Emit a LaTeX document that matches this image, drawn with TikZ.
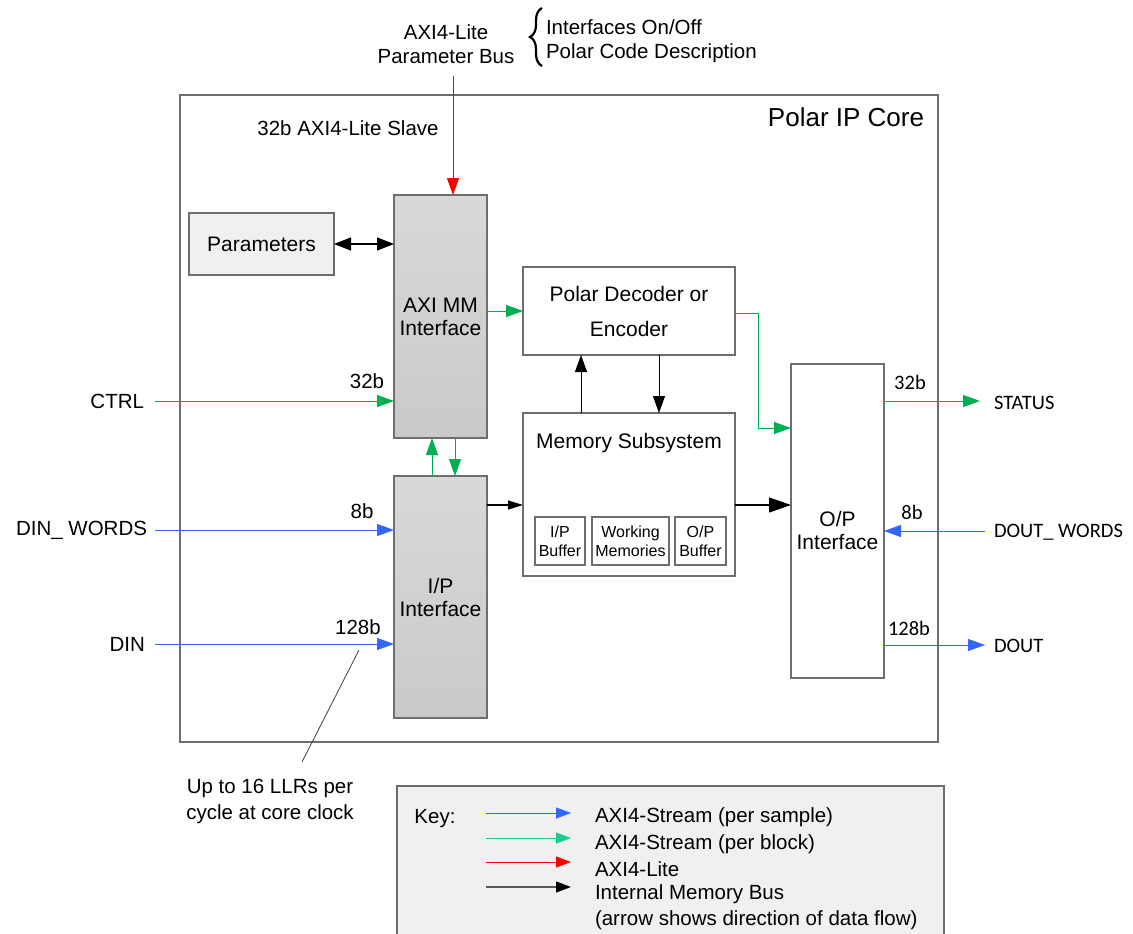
\documentclass[tikz,border=0pt]{standalone}
\usepackage{fontspec}
\setmainfont{Liberation Sans}
\newfontfamily\calfont{Carlito}
\usetikzlibrary{arrows.meta,calc,decorations.pathreplacing}
\definecolor{bdr}{HTML}{6E6E6E}
\definecolor{grn}{HTML}{00B050}
\definecolor{blu}{HTML}{3366FF}
\definecolor{teal}{HTML}{1FC98F}
\definecolor{lgray}{HTML}{F0F0F0}
\tikzset{
  every node/.style={font=\fontsize{21}{25}\selectfont, inner sep=0pt, outer sep=0pt},
  box/.style={draw=bdr, line width=1.2pt, fill=white, align=center},
  gbox/.style={draw=bdr, line width=1.2pt, top color=gray!30, bottom color=gray!42, align=center},
  sbox/.style={draw=bdr, line width=1.1pt, fill=white, align=center, font=\fontsize{16}{19}\selectfont},
  tip/.style={-{Triangle[length=17pt,width=12pt]}},
  gline/.style={tip, draw=grn, line width=1pt},
  bline/.style={tip, draw=blu, line width=1pt},
  kline/.style={tip, draw=black, line width=1pt},
  lbl/.style={font=\fontsize{20.5}{24}\selectfont},
  rlbl/.style={font=\calfont\fontsize{20.5}{24}\selectfont},
  ktip/.style={-{Triangle[length=15pt,width=11pt]}, line width=1pt},
}
\begin{document}
\begin{tikzpicture}[x=1pt,y=-1pt]
\useasboundingbox (0,0) rectangle (1133,934);
\fill[white] (0,0) rectangle (1133,934);
% outer core
\node[draw=bdr, line width=1.3pt, minimum width=758pt, minimum height=647pt] (core) at (559,418.5) {};
\node[font=\fontsize{26}{30}\selectfont] (coret) at (846,117) {Polar IP Core};
\node[lbl] (slave) at (348,128) {32b AXI4-Lite Slave};
% parameter bus
\node[align=center, lbl] (pbus) at (446,44) {AXI4-Lite\\Parameter Bus};
\node[anchor=west, align=left, lbl] (desc) at (546,41) {Interfaces On/Off\\Polar Code Description};
\coordinate (brb) at (542,66);
\coordinate (brt) at (542,8);
\draw[line width=2.2pt, decorate, decoration={brace, amplitude=12pt}] (brb) -- (brt);
% blocks
\node[gbox, minimum width=93pt, minimum height=243pt] (axi) at (440.5,316.5) {AXI MM\\[-2pt]Interface};
\node[gbox, minimum width=93pt, minimum height=242pt] (ipi) at (440.5,597) {I/P\\[-2pt]Interface};
\node[box, fill=lgray, minimum width=145pt, minimum height=62pt] (params) at (261.5,244) {Parameters};
\node[box, minimum width=212pt, minimum height=88pt] (dec) at (629,311) {Polar Decoder or\\[10pt]Encoder};
\node[box, minimum width=212pt, minimum height=163pt] (mem) at (629,494.5) {};
\node (memt) at (629,443) {Memory Subsystem};
\node[sbox, minimum width=50pt, minimum height=48pt] (ipb) at (560,541) {I/P\\Buffer};
\node[sbox, minimum width=77pt, minimum height=48pt] (wm) at (630.5,541) {Working\\Memories};
\node[sbox, minimum width=51pt, minimum height=48pt] (opb) at (700.5,541) {O/P\\Buffer};
\node[box, minimum width=93pt, minimum height=314pt] (opi) at (837.5,521) {};
\node[align=center] (opit) at (837.5,530) {O/P\\[-2pt]Interface};
% red parameter arrow
\coordinate (pstart) at (453,76);
\draw[tip, draw=red, line width=1pt] (pstart) -- (pstart |- axi.north);
% params <-> axi
\draw[{Triangle[length=17pt,width=13pt]}-{Triangle[length=17pt,width=13pt]}, line width=1.2pt] (params.east) -- (params.east -| axi.west);
% axi -> dec
\draw[gline] (axi.east |- dec.west) -- (dec.west);
% mem <-> dec
\draw[kline] ([xshift=-48pt]mem.north) -- ([xshift=-48pt]mem.north |- dec.south);
\draw[kline] ([xshift=30pt]dec.south) -- ([xshift=30pt]dec.south |- mem.north);
% dec -> opi
\draw[gline] ([yshift=-2pt]dec.east) -- ++(23,0) |- ([yshift=-64pt]opi.north west);
% mem -> opi
\draw[-{Triangle[length=22pt,width=15pt]}, line width=1.2pt] ([yshift=-10.5pt]mem.east) -- ([yshift=-10.5pt]mem.east -| opi.west);
% ipi -> mem
\draw[-{Triangle[length=15pt,width=9pt]}, line width=1.2pt] ([yshift=-29pt]ipi.north east) -- ([yshift=-29pt]ipi.north east -| mem.west);
% axi <-> ipi
\draw[gline] ([xshift=-8.5pt]ipi.north) -- ([xshift=-8.5pt]ipi.north |- axi.south);
\draw[gline] ([xshift=14.5pt]axi.south) -- ([xshift=14.5pt]axi.south |- ipi.north);
% left inputs
\node[anchor=east, lbl] (ctrl) at (144,401) {CTRL};
\draw[gline] ([xshift=11pt]ctrl.east) -- (axi.west |- ctrl.east);
\node[lbl] (w32) at (367,381) {32b};
\node[anchor=east, lbl] (dinw) at (147,530) {DIN\_ WORDS};
\draw[bline] ([xshift=8pt]dinw.east) -- (ipi.west |- dinw.east);
\node[lbl] (w8) at (362,511) {8b};
\node[anchor=east, lbl] (din) at (145,644) {DIN};
\draw[bline] ([xshift=10pt]din.east) -- (ipi.west |- din.east);
\node[lbl] (w128) at (358,627) {128b};
% annotation
\coordinate (ann1) at (359,650);
\coordinate (ann2) at (302,762);
\draw[line width=0.8pt, black!75] (ann1) -- (ann2);
\node[align=center, lbl] (llr) at (270,801) {Up to 16 LLRs per\\[2pt]cycle at core clock};
% right outputs
\node[anchor=west, rlbl] (status) at (994,403) {STATUS};
\draw[gline] (opi.east |- 0,401) -- ([xshift=-14pt]status.west |- 0,401);
\node[rlbl] (o32) at (910,382) {32b};
\node[anchor=west, rlbl] (doutw) at (994,532) {DOUT\_ WORDS};
\draw[bline] ([xshift=-9pt]doutw.west |- 0,531) -- (opi.east |- 0,531);
\node[rlbl] (o8) at (912,512) {8b};
\node[anchor=west, rlbl] (dout) at (994,646) {DOUT};
\draw[bline] (opi.east |- 0,645) -- ([xshift=-9pt]dout.west |- 0,645);
\node[rlbl] (o128) at (909,628) {128b};
% key
\fill[lgray] (397,786) rectangle (944,940);
\draw[bdr, line width=1.2pt] (397,940) -- (397,786) -- (944,786) -- (944,940);
\node[lbl] (key) at (435,819) {Key:};
\coordinate (k1a) at (486,813); \coordinate (k1b) at (571,813);
\coordinate (k2a) at (486,838); \coordinate (k2b) at (571,838);
\coordinate (k3a) at (486,862); \coordinate (k3b) at (571,862);
\coordinate (k4a) at (486,887); \coordinate (k4b) at (571,887);
\draw[ktip, draw=blu] (k1a) -- (k1b);
\draw[ktip, draw=teal] (k2a) -- (k2b);
\draw[ktip, draw=red] (k3a) -- (k3b);
\draw[-{Triangle[length=15pt,width=11pt,color=black,fill=black]}, draw=black!65, line width=1.2pt] (k4a) -- (k4b);
\node[anchor=west, lbl] (kt1) at (595,817) {AXI4-Stream (per sample)};
\node[anchor=west, lbl] (kt2) at (595,844) {AXI4-Stream (per block)};
\node[anchor=west, lbl] (kt3) at (595,869) {AXI4-Lite};
\node[anchor=west, lbl] (kt4) at (595,894) {Internal Memory Bus};
\node[anchor=west, lbl] (kt5) at (595,920) {(arrow shows direction of data flow)};
\end{tikzpicture}
\end{document}
